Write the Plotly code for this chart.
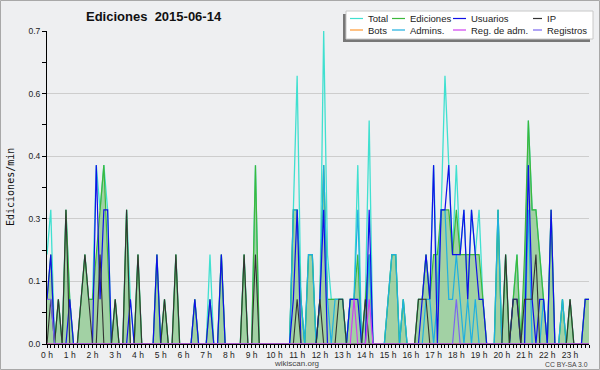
import plotly.graph_objects as go

# ---------------- data (edits per 10-minute bin, 2015-06-14) ----------------
BIN_MINUTES = list(range(0, 1440, 10))
HOUR_TICKS = list(range(24))
HOUR_LABELS = [f"{h} h" for h in HOUR_TICKS]
Y_TICKS = [0, 0.14, 0.28, 0.42, 0.56, 0.7]

TOTAL = [
    2, 3, 0, 1, 0, 3, 1, 0, 0, 1, 2, 1,
    1, 4, 3, 4, 3, 0, 1, 0, 0, 3, 1, 0,
    2, 0, 0, 0, 0, 2, 0, 1, 0, 0, 2, 0,
    0, 0, 0, 1, 0, 0, 0, 2, 0, 0, 2, 0,
    0, 0, 0, 0, 2, 0, 0, 4, 0, 0, 0, 0,
    0, 0, 0, 0, 0, 3, 6, 1, 0, 2, 2, 0,
    1, 7, 2, 1, 1, 1, 1, 0, 1, 1, 4, 0,
    1, 5, 0, 0, 0, 0, 1, 2, 2, 0, 1, 0,
    0, 0, 1, 1, 2, 1, 4, 1, 3, 6, 4, 2,
    4, 2, 3, 1, 3, 2, 3, 1, 0, 0, 0, 3,
    0, 2, 0, 1, 2, 0, 1, 5, 3, 3, 2, 1,
    0, 3, 0, 0, 1, 0, 1, 0, 0, 0, 1, 1,
]
EDICIONES = [
    1, 2, 0, 1, 0, 3, 1, 0, 0, 1, 2, 1,
    1, 2, 3, 4, 2, 0, 1, 0, 0, 3, 0, 0,
    2, 0, 0, 0, 0, 2, 0, 1, 0, 0, 2, 0,
    0, 0, 0, 1, 0, 0, 0, 1, 0, 0, 2, 0,
    0, 0, 0, 0, 2, 0, 0, 4, 0, 0, 0, 0,
    0, 0, 0, 0, 0, 3, 3, 1, 0, 2, 2, 0,
    1, 4, 1, 1, 1, 1, 1, 0, 1, 1, 2, 0,
    1, 2, 0, 0, 0, 0, 1, 2, 2, 0, 1, 0,
    0, 0, 1, 1, 2, 1, 2, 2, 3, 3, 3, 2,
    3, 2, 2, 2, 2, 2, 2, 1, 0, 0, 0, 3,
    0, 2, 0, 1, 2, 0, 2, 5, 3, 3, 2, 1,
    0, 3, 0, 0, 1, 0, 1, 0, 0, 0, 1, 1,
]
USUARIOS = [
    1, 2, 0, 0, 0, 0, 1, 0, 0, 0, 0, 0,
    0, 4, 1, 3, 3, 0, 0, 0, 0, 0, 1, 0,
    0, 0, 0, 0, 0, 2, 0, 0, 0, 0, 0, 0,
    0, 0, 0, 1, 0, 0, 0, 1, 0, 0, 2, 0,
    0, 0, 0, 0, 0, 0, 0, 0, 0, 0, 0, 0,
    0, 0, 0, 0, 0, 1, 3, 0, 0, 0, 0, 0,
    1, 3, 0, 0, 0, 0, 0, 0, 1, 1, 1, 0,
    0, 3, 0, 0, 0, 0, 0, 0, 0, 0, 0, 0,
    0, 0, 0, 1, 2, 1, 4, 0, 3, 3, 4, 2,
    2, 2, 3, 1, 3, 2, 1, 1, 0, 0, 0, 0,
    0, 0, 0, 1, 1, 0, 0, 4, 1, 0, 1, 1,
    0, 3, 0, 0, 0, 0, 0, 0, 0, 0, 1, 1,
]
IP = [
    0, 1, 0, 1, 0, 3, 0, 0, 0, 1, 2, 1,
    0, 0, 2, 0, 0, 0, 1, 0, 0, 3, 0, 0,
    2, 0, 0, 0, 0, 0, 0, 1, 0, 0, 2, 0,
    0, 0, 0, 0, 0, 0, 0, 0, 0, 0, 0, 0,
    0, 0, 0, 0, 2, 0, 0, 2, 0, 0, 0, 0,
    0, 0, 0, 0, 0, 0, 1, 0, 0, 0, 0, 0,
    1, 0, 0, 0, 0, 1, 1, 0, 0, 0, 0, 0,
    1, 0, 0, 0, 0, 0, 0, 0, 0, 0, 0, 0,
    0, 0, 1, 1, 1, 0, 0, 0, 0, 0, 0, 0,
    0, 0, 0, 0, 0, 0, 0, 0, 0, 0, 0, 0,
    0, 2, 0, 1, 1, 0, 1, 1, 1, 2, 0, 0,
    0, 0, 0, 0, 0, 0, 1, 0, 0, 0, 0, 0,
]
BOTS = [0] * 144
ADMINS = [
    0, 0, 0, 0, 0, 0, 0, 0, 0, 0, 0, 0,
    0, 0, 0, 0, 0, 0, 0, 0, 0, 0, 0, 0,
    0, 0, 0, 0, 0, 0, 0, 0, 0, 0, 0, 0,
    0, 0, 0, 0, 0, 0, 0, 0, 0, 0, 0, 0,
    0, 0, 0, 0, 0, 0, 0, 0, 0, 0, 0, 0,
    0, 0, 0, 0, 0, 3, 3, 1, 0, 2, 2, 0,
    1, 4, 1, 0, 1, 1, 1, 0, 1, 1, 3, 0,
    0, 2, 0, 0, 0, 0, 1, 2, 2, 0, 1, 0,
    0, 0, 0, 0, 1, 1, 0, 1, 3, 3, 1, 1,
    2, 1, 0, 1, 0, 1, 0, 0, 0, 0, 0, 3,
    0, 0, 0, 0, 0, 0, 0, 3, 0, 0, 0, 1,
    0, 0, 0, 0, 1, 0, 0, 0, 0, 0, 0, 0,
]
REG_ADM = [
    0, 0, 0, 0, 0, 0, 0, 0, 0, 0, 0, 0,
    0, 0, 0, 0, 0, 0, 0, 0, 0, 0, 0, 0,
    0, 0, 0, 0, 0, 0, 0, 0, 0, 0, 0, 0,
    0, 0, 0, 0, 0, 0, 0, 0, 0, 0, 0, 0,
    0, 0, 0, 0, 0, 0, 0, 0, 0, 0, 0, 0,
    0, 0, 0, 0, 0, 0, 0, 0, 0, 0, 0, 0,
    0, 0, 0, 0, 0, 0, 0, 0, 0, 1, 0, 0,
    0, 1, 0, 0, 0, 0, 0, 0, 0, 0, 0, 0,
    0, 0, 0, 0, 0, 0, 0, 0, 0, 0, 0, 0,
    0, 0, 0, 0, 0, 0, 0, 0, 0, 0, 0, 0,
    0, 0, 0, 0, 0, 0, 0, 0, 0, 0, 0, 0,
    0, 0, 0, 0, 0, 0, 0, 0, 0, 0, 0, 0,
]
REGISTROS = [
    1, 1, 0, 0, 0, 0, 0, 0, 0, 0, 0, 0,
    0, 0, 0, 0, 0, 0, 0, 0, 0, 0, 0, 0,
    0, 0, 0, 0, 0, 0, 0, 0, 0, 0, 0, 0,
    0, 0, 0, 0, 0, 0, 0, 0, 0, 0, 0, 0,
    0, 0, 0, 0, 0, 0, 0, 0, 0, 0, 0, 0,
    0, 0, 0, 0, 0, 0, 0, 0, 0, 0, 0, 0,
    0, 0, 0, 0, 0, 0, 0, 0, 0, 0, 0, 0,
    0, 0, 0, 0, 0, 0, 0, 0, 0, 0, 0, 0,
    0, 0, 0, 0, 0, 0, 0, 0, 0, 0, 0, 0,
    1, 0, 0, 0, 0, 0, 0, 0, 0, 0, 0, 0,
    0, 0, 0, 0, 0, 0, 0, 0, 0, 0, 0, 0,
    0, 0, 0, 0, 0, 0, 0, 0, 0, 0, 0, 0,
]

# ---------------- styling ----------------
W, H = 600, 370
ML, MR, MT, MB = 47, 11, 31, 26
BG = "#eeeff1"
FONT = "Liberation Sans, Arial, sans-serif"

COLORS = {
    "Total": "#40e0d0",
    "Ediciones": "#3cb83c",
    "Usuarios": "#1010e8",
    "IP": "#333333",
    "Bots": "#ff9933",
    "Admins.": "#1fb0e0",
    "Reg. de adm.": "#d040f0",
    "Registros": "#7b68ee",
}

hours = [m / 60 for m in BIN_MINUTES]


def per_min(v):
    # edits per 10-minute bin -> edits per minute
    return [x / 10 for x in v]


def px(xp):
    return (xp - ML) / (W - ML - MR)


def py(yp):
    return (H - MB - yp) / (H - MT - MB)


fig = go.Figure()

fig.add_trace(go.Scatter(x=hours, y=per_min(TOTAL), mode="lines", name="Total",
                         line=dict(color=COLORS["Total"], width=1.3)))
fig.add_trace(go.Scatter(x=hours, y=per_min(EDICIONES), mode="lines", name="Ediciones",
                         fill="tozeroy", fillcolor="rgba(80,175,80,0.48)",
                         line=dict(color=COLORS["Ediciones"], width=1.2)))
fig.add_trace(go.Scatter(x=hours, y=per_min(ADMINS), mode="lines", name="Admins.",
                         line=dict(color=COLORS["Admins."], width=1.2)))
fig.add_trace(go.Scatter(x=hours, y=per_min(USUARIOS), mode="lines", name="Usuarios",
                         line=dict(color=COLORS["Usuarios"], width=1.2)))
fig.add_trace(go.Scatter(x=hours, y=per_min(IP), mode="lines", name="IP",
                         line=dict(color=COLORS["IP"], width=1.1)))
fig.add_trace(go.Scatter(x=hours, y=per_min(BOTS), mode="lines", name="Bots",
                         line=dict(color=COLORS["Bots"], width=1.2)))
fig.add_trace(go.Scatter(x=hours, y=per_min(REGISTROS), mode="lines", name="Registros",
                         line=dict(color=COLORS["Registros"], width=1.2)))
fig.add_trace(go.Scatter(x=hours, y=per_min(REG_ADM), mode="lines", name="Reg. de adm.",
                         line=dict(color=COLORS["Reg. de adm."], width=1.2)))

shapes = []
annotations = []

# outer image border
shapes.append(dict(type="rect", xref="paper", yref="paper",
                   x0=px(0.5), x1=px(599.5), y0=py(369.5), y1=py(0.5),
                   line=dict(color="#a8a8a8", width=1), fillcolor="rgba(0,0,0,0)", layer="below"))

# legend box with shadow
LX0, LX1, LY0, LY1 = 346, 593, 11, 39
shapes.append(dict(type="rect", xref="paper", yref="paper",
                   x0=px(LX0 - 3), x1=px(LX1 - 3), y0=py(LY1 + 3), y1=py(LY0 + 3),
                   line=dict(width=0), fillcolor="#777777", layer="above"))
shapes.append(dict(type="rect", xref="paper", yref="paper",
                   x0=px(LX0), x1=px(LX1), y0=py(LY1), y1=py(LY0),
                   line=dict(color="#c8c8c8", width=1), fillcolor="white", layer="above"))

ROW1, ROW2 = 18.5, 30
legend_items = [
    ("Total", 350, 366, ROW1), ("Ediciones", 392, 408, ROW1),
    ("Usuarios", 453, 469, ROW1), ("IP", 533, 545, ROW1),
    ("Bots", 350, 366, ROW2), ("Admins.", 392, 408, ROW2),
    ("Reg. de adm.", 453, 469, ROW2), ("Registros", 533, 545, ROW2),
]
for name, sx, tx, ty in legend_items:
    shapes.append(dict(type="line", xref="paper", yref="paper",
                       x0=px(sx), x1=px(tx - 3), y0=py(ty), y1=py(ty),
                       line=dict(color=COLORS[name], width=1.2), layer="above"))
    annotations.append(dict(text=name, xref="paper", yref="paper", x=px(tx), y=py(ty),
                            xanchor="left", yanchor="middle", showarrow=False,
                            font=dict(family=FONT, size=9.5, color="#222")))

# title
annotations.append(dict(text="<b>Ediciones\u00a0 2015-06-14</b>", xref="paper", yref="paper",
                        x=px(154), y=py(16.5), xanchor="center", yanchor="middle",
                        showarrow=False, font=dict(family=FONT, size=13, color="#111")))
# y axis title
annotations.append(dict(text="Ediciones/min", xref="paper", yref="paper",
                        x=px(10), y=py(187), xanchor="center", yanchor="middle",
                        textangle=-90, showarrow=False,
                        font=dict(family="DejaVu Sans Mono, monospace", size=10, color="#111")))
# footer
annotations.append(dict(text="wikiscan.org", xref="paper", yref="paper",
                        x=px(296), y=py(363.5), xanchor="center", yanchor="middle",
                        showarrow=False, font=dict(family=FONT, size=8, color="#444")))
annotations.append(dict(text="CC BY-SA 3.0", xref="paper", yref="paper",
                        x=px(590), y=py(364), xanchor="right", yanchor="middle",
                        showarrow=False, font=dict(family=FONT, size=6.8, color="#444")))

fig.update_layout(
    width=W, height=H,
    margin=dict(l=ML, r=MR, t=MT, b=MB, pad=0),
    paper_bgcolor=BG, plot_bgcolor=BG,
    showlegend=False,
    shapes=shapes, annotations=annotations,
    font=dict(family=FONT, size=8.5, color="#222"),
)
fig.update_xaxes(
    range=[0, hours[-1]], tickmode="array", tickvals=HOUR_TICKS, ticktext=HOUR_LABELS,
    ticks="outside", ticklen=3, tickwidth=1, tickcolor="black",
    showline=True, linecolor="black", linewidth=1, showgrid=False, zeroline=False,
    minor=dict(dtick=1 / 6, tick0=0, ticks="outside", ticklen=3, tickcolor="black", showgrid=False),
    tickfont=dict(family=FONT, size=8.5, color="#222"),
)
fig.update_yaxes(
    range=[0, 0.7], tickmode="array", tickvals=Y_TICKS, tickformat=".1f",
    ticks="outside", ticklen=4, tickwidth=1, tickcolor="black",
    showline=True, linecolor="black", linewidth=1,
    showgrid=True, gridcolor="#cdcdcd", gridwidth=1, zeroline=False,
    minor=dict(dtick=0.07, tick0=0, ticks="outside", ticklen=4, tickcolor="black", showgrid=False),
    tickfont=dict(family=FONT, size=8.5, color="#222"),
)

fig.write_html("out.html", config={"displayModeBar": False},
               post_script="document.body.style.margin='0';")
